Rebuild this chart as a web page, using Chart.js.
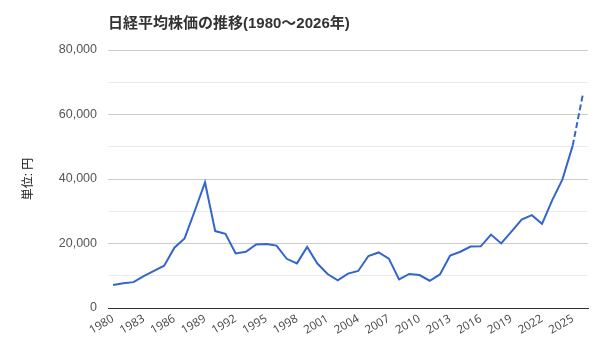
<!DOCTYPE html>
<html><head><meta charset="utf-8">
<script src="https://cdn.jsdelivr.net/npm/chart.js@4/dist/chart.umd.min.js"></script>
<style>html,body{margin:0;padding:0;background:#fff}#wrap{width:600px;height:360px;position:relative}</style>
</head><body><div id="wrap"><canvas id="c" width="600" height="360"></canvas></div>
<script>
const chartTitle = '日経平均株価の推移(1980～2026年)';
const yAxisTitle = '単位: 円';
const years = ['1980','1981','1982','1983','1984','1985','1986','1987','1988','1989',
  '1990','1991','1992','1993','1994','1995','1996','1997','1998','1999',
  '2000','2001','2002','2003','2004','2005','2006','2007','2008','2009',
  '2010','2011','2012','2013','2014','2015','2016','2017','2018','2019',
  '2020','2021','2022','2023','2024','2025','2026'];
const closes = [7116,7682,8017,9894,11543,13113,18701,21564,30159,38916,
  23849,22984,16925,17417,19723,19868,19361,15259,13842,18934,
  13786,10543,8579,10677,11489,16111,17226,15308,8860,10546,
  10229,8455,10395,16291,17451,19034,19114,22765,20015,23657,
  27444,28792,26095,33464,39895,50339,66300];
const shownYearLabels = ['1980','1983','1986','1989','1992','1995','1998','2001','2004','2007','2010','2013','2016','2019','2022','2025'];
const labeledYTicks = [0,20000,40000,60000,80000];
const dashedFromYear = '2025';

const FONT = '"Liberation Sans", Arial, "Noto Sans CJK JP", sans-serif';
const XFONT = '"Open Sans", "Noto Sans", sans-serif';

const titlePlugin = {
  id: 'leftTitle',
  afterDraw(chart) {
    const {ctx, chartArea} = chart;
    ctx.save();
    ctx.font = 'bold 15px ' + FONT;
    ctx.fillStyle = '#333';
    ctx.textBaseline = 'middle';
    ctx.textAlign = 'left';
    ctx.fillText(chartTitle, chartArea.left, 24);
    ctx.restore();
  }
};

const dashIdx = years.indexOf(dashedFromYear);

new Chart(document.getElementById('c'), {
  type: 'line',
  data: {
    labels: years,
    datasets: [{
      data: closes,
      borderColor: '#3366cc',
      borderWidth: 2,
      pointRadius: 0,
      pointHoverRadius: 0,
      tension: 0,
      fill: false,
      segment: {
        borderDash: c => c.p0DataIndex >= dashIdx ? [6, 3] : undefined
      }
    }]
  },
  options: {
    responsive: false,
    animation: false,
    devicePixelRatio: 1,
    layout: { padding: { left: 17, right: 12, top: 50, bottom: 0 } },
    plugins: { legend: { display: false }, tooltip: { enabled: false } },
    scales: {
      x: {
        type: 'category',
        offset: true,
        grid: { display: false, drawTicks: false },
        border: { display: true, color: '#333', width: 1 },
        ticks: {
          autoSkip: false,
          maxRotation: 30, minRotation: 30,
          padding: 4,
          color: '#444',
          font: { family: XFONT, size: 11.5 },
          callback: function(v, i) { const l = this.getLabelForValue(v); return shownYearLabels.includes(l) ? l : null; }
        },
        afterFit: s => { s.height = 52; }
      },
      y: {
        min: 0, max: 80000,
        border: { display: false },
        grid: {
          drawTicks: false,
          color: c => c.tick.value === 0 ? '#333' : (labeledYTicks.includes(c.tick.value) ? '#cccccc' : '#ebebeb'),
          lineWidth: 1
        },
        ticks: {
          stepSize: 10000,
          padding: 11,
          color: '#555',
          font: { family: FONT, size: 12.5 },
          callback: v => labeledYTicks.includes(v) ? v.toLocaleString('en-US') : ''
        },
        title: {
          display: true,
          text: yAxisTitle,
          color: '#222',
          font: { family: FONT, size: 12 },
          padding: { top: 4, bottom: 4 }
        },
        afterFit: s => { s.width = 91; }
      }
    }
  },
  plugins: [titlePlugin]
});
</script>
</body></html>
